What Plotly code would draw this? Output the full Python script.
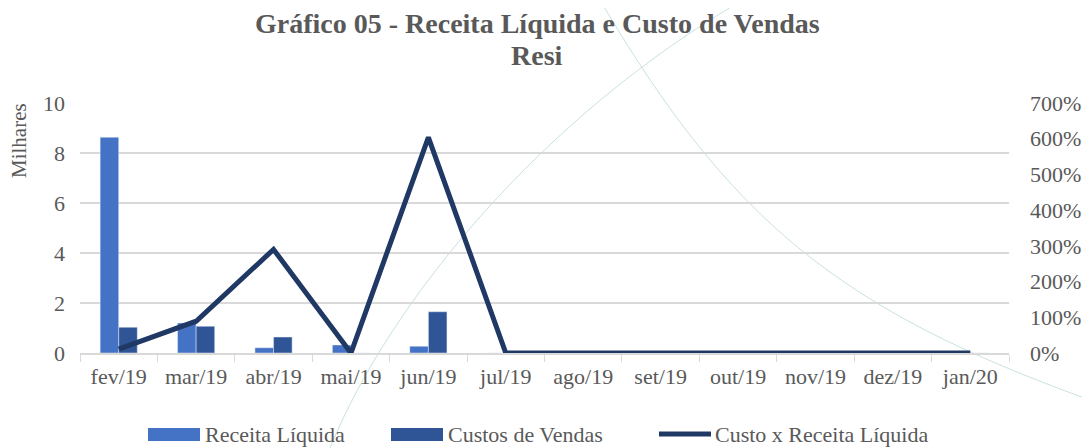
import plotly.graph_objects as go

meses = ["fev/19", "mar/19", "abr/19", "mai/19", "jun/19", "jul/19",
         "ago/19", "set/19", "out/19", "nov/19", "dez/19", "jan/20"]
receita = [8.63, 1.2, 0.21, 0.32, 0.27, 0, 0, 0, 0, 0, 0, 0]
custos = [1.03, 1.07, 0.64, 0, 1.65, 0, 0, 0, 0, 0, 0, 0]
custo_x_receita = [0.11, 0.89, 2.90, 0.0, 6.04, 0, 0, 0, 0, 0, 0, 0]

W, H = 1090, 448
OFF = 8  # page body margin shifts the figure by 8px
PL, PR, PT, PB = 80, 1009, 103, 353  # plot area in the target picture
L, T = PL - OFF, PT - OFF
R, B = W - L - (PR - PL), H - T - (PB - PT)
FONT = "Liberation Serif"
GREY = "#595959"
C_REC, C_CUS, C_LIN = "#4472C4", "#2F5597", "#203864"

def px(x, y):
    # target-picture pixel -> paper coordinates
    return (x - PL) / (PR - PL), (PB - y) / (PB - PT)

def bezier(p0, c1, c2, p3):
    pts = [px(*p) for p in (p0, c1, c2, p3)]
    return "M {:.4f},{:.4f} C {:.4f},{:.4f} {:.4f},{:.4f} {:.4f},{:.4f}".format(
        *[v for p in pts for v in p])

fig = go.Figure()
fig.add_trace(go.Bar(x=meses, y=receita, name="Receita Líquida",
                     marker_color=C_REC))
fig.add_trace(go.Bar(x=meses, y=custos, name="Custos de Vendas",
                     marker_color=C_CUS))
fig.add_trace(go.Scatter(x=meses, y=custo_x_receita, name="Custo x Receita Líquida",
                         mode="lines", yaxis="y2",
                         line=dict(color=C_LIN, width=5)))

# decorative background curves
deco = dict(type="path", xref="paper", yref="paper", layer="below",
            line=dict(color="#c9e2e0", width=1))
fig.add_shape(path=bezier((330, 448), (390, 301), (543, 116), (743, 0)), **deco)
fig.add_shape(path=bezier((600, 0), (730, 221), (840, 310), (1090, 400)), **deco)

# legend drawn by hand, with the wide swatches of the original
txt = dict(xref="paper", yref="paper", showarrow=False, xanchor="left",
           yanchor="middle", font=dict(family=FONT, size=22, color=GREY))
x0, y0 = px(148, 428)
x1, y1 = px(200, 441)
fig.add_shape(type="rect", xref="paper", yref="paper", x0=x0, x1=x1, y0=y0, y1=y1,
              fillcolor=C_REC, line_width=0)
fig.add_annotation(text="Receita Líquida", x=px(203, 0)[0], y=px(0, 434)[1], **txt)
x0, y0 = px(391, 428)
x1, y1 = px(443, 441)
fig.add_shape(type="rect", xref="paper", yref="paper", x0=x0, x1=x1, y0=y0, y1=y1,
              fillcolor=C_CUS, line_width=0)
fig.add_annotation(text="Custos de Vendas", x=px(446, 0)[0], y=px(0, 434)[1], **txt)
x0, y0 = px(659, 434)
x1, _ = px(711, 434)
fig.add_shape(type="line", xref="paper", yref="paper", x0=x0, x1=x1, y0=y0, y1=y0,
              line=dict(color=C_LIN, width=5))
fig.add_annotation(text="Custo x Receita Líquida", x=px(713, 0)[0],
                   y=px(0, 434)[1], **txt)

fig.add_annotation(text="Milhares", xref="paper", yref="paper",
                   x=px(19, 0)[0], y=px(0, 141)[1], textangle=-90,
                   xanchor="center", yanchor="middle",
                   showarrow=False, font=dict(family=FONT, size=21, color=GREY))

titulo = dict(xref="paper", yref="paper", showarrow=False,
              xanchor="center", yanchor="middle",
              font=dict(family=FONT, size=28, color=GREY))
fig.add_annotation(text="<b>Gráfico 05 - Receita Líquida e Custo de Vendas</b>",
                   x=px(537, 0)[0], y=px(0, 24)[1], **titulo)
fig.add_annotation(text="<b>Resi</b>", x=px(537, 0)[0], y=px(0, 55)[1], **titulo)

fig.update_layout(
    width=W, height=H,
    margin=dict(l=L, r=R, t=T, b=B),
    paper_bgcolor="white", plot_bgcolor="white",
    font=dict(family=FONT, size=22, color=GREY),
    showlegend=False,
    barmode="group", bargap=0.52, bargroupgap=0,
    xaxis=dict(type="category", showline=True, linecolor="#d9d9d9", linewidth=1.5,
               ticks="outside", tickson="boundaries", ticklen=7, tickcolor="#d9d9d9",
               showgrid=False, ticklabelstandoff=3,
               tickfont=dict(size=22, color=GREY)),
    yaxis=dict(range=[0, 10], dtick=2, showgrid=True, gridcolor="#d9d9d9",
               gridwidth=1.5, zeroline=False, ticks="", ticklabelstandoff=14,
               tickfont=dict(size=22, color=GREY)),
    yaxis2=dict(range=[0, 7], dtick=1, tickformat=".0%", overlaying="y",
                side="right", showgrid=False, zeroline=False, ticklabelstandoff=20,
                tickfont=dict(size=22, color=GREY)),
)

fig.write_html("out.html")
